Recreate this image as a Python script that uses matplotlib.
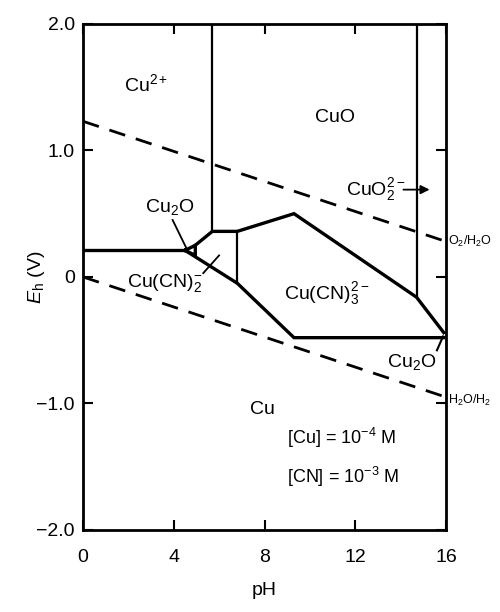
import matplotlib as mpl, matplotlib.pyplot as plt

mpl.rcParams.update({
    "font.family": ["Liberation Sans", "DejaVu Sans"],
    "font.size": 13, "mathtext.fontset": "custom",
    "mathtext.rm": "Liberation Sans", "mathtext.it": "Liberation Sans:italic",
})

# boundaries (pH, Eh)
cu2_cu = [(0, 0.21), (4.5, 0.21)]
cu2o_tri = [(4.5, 0.21), (4.95, 0.25), (4.95, 0.17), (4.5, 0.21)]
upper = [(4.95, 0.25), (5.7, 0.36), (6.8, 0.36), (9.3, 0.50), (14.7, -0.16), (15.9, -0.44)]
lower = [(4.5, 0.21), (6.8, -0.05), (9.3, -0.48), (15.9, -0.48)]
cuo_left = [(5.7, 2.0), (5.7, 0.36)]
cuo_right = [(14.7, 2.0), (14.7, -0.16)]
cn_split = [(6.8, 0.36), (6.8, -0.05)]
o2_h2o = [(0, 1.23), (16, 0.28)]
h2o_h2 = [(0, 0.0), (16, -0.95)]

xticks = [0, 4, 8, 12, 16]
yticks = [-2.0, -1.0, 0, 1.0, 2.0]
ylabels = ["\u22122.0", "\u22121.0", "0", "1.0", "2.0"]

fig = plt.figure(figsize=(5, 6.12), dpi=100)
ax = fig.add_axes([0.166, 0.134, 0.726, 0.827])

def draw(pts, **kw):
    xs, ys = zip(*pts)
    ax.plot(xs, ys, color="black", solid_joinstyle="miter", **kw)

for seg in (cu2_cu, cu2o_tri, upper, lower):
    draw(seg, lw=2.4)
for seg in (cuo_left, cuo_right, cn_split):
    draw(seg, lw=1.6)
for seg in (o2_h2o, h2o_h2):
    draw(seg, lw=2.0, dashes=(6, 4))

ax.set_xlim(0, 16); ax.set_ylim(-2, 2)
ax.set_xticks(xticks); ax.set_yticks(yticks, ylabels)
ax.tick_params(direction="in", length=7, width=1.5, top=True, right=True,
               labeltop=False, labelright=False, labelsize=14)
ax.tick_params(axis="x", pad=14)
ax.tick_params(axis="y", pad=6)
for s in ax.spines.values():
    s.set_linewidth(2)
ax.set_xlabel("pH", fontsize=14)
ax.set_ylabel("$E_\\mathrm{h}$ (V)", fontsize=14)
ax.xaxis.set_label_coords(0.5, -0.103)
ax.yaxis.set_label_coords(-0.099, 0.5)

ax.text(2.8, 1.52, "Cu$^{2+}$", ha="center", va="center", fontsize=14)
ax.text(11.1, 1.26, "CuO", ha="center", va="center", fontsize=14)
ax.text(12.9, 0.69, "CuO$_2^{2-}$", ha="center", va="center", fontsize=14)
ax.annotate("", xy=(15.4, 0.69), xytext=(14.0, 0.69),
            arrowprops=dict(arrowstyle="-|>", color="black", lw=1.3))
ax.text(3.8, 0.55, "Cu$_2$O", ha="center", va="center", fontsize=14)
ax.plot([3.95, 4.55], [0.45, 0.23], color="black", lw=1.3)
ax.text(3.6, -0.05, "Cu(CN)$_2^{-}$", ha="center", va="center", fontsize=14)
ax.plot([5.3, 6.0], [0.03, 0.17], color="black", lw=1.3)
ax.text(10.75, -0.13, "Cu(CN)$_3^{2-}$", ha="center", va="center", fontsize=14)
ax.text(14.5, -0.67, "Cu$_2$O", ha="center", va="center", fontsize=14)
ax.plot([15.6, 15.87], [-0.58, -0.47], color="black", lw=1.5)
ax.text(7.93, -1.05, "Cu", ha="center", va="center", fontsize=14)
ax.text(9.0, -1.27, "[Cu] = 10$^{-4}$ M", ha="left", va="center", fontsize=13)
ax.text(9.0, -1.58, "[CN] = 10$^{-3}$ M", ha="left", va="center", fontsize=13)
ax.text(16.1, 0.28, "O$_2$/H$_2$O", ha="left", va="center", fontsize=9, clip_on=False)
ax.text(16.1, -0.98, "H$_2$O/H$_2$", ha="left", va="center", fontsize=9, clip_on=False)

fig.savefig("out.png", dpi=100)
